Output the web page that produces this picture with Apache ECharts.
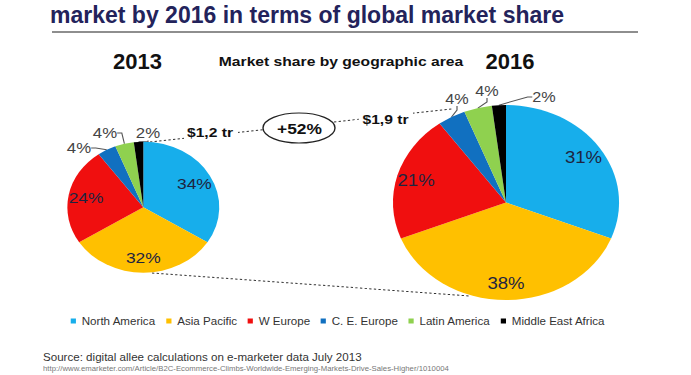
<!DOCTYPE html>
<html>
<head>
<meta charset="utf-8">
<script src="https://cdn.jsdelivr.net/npm/echarts@6/dist/echarts.min.js"></script>
<style>
html, body { margin: 0; padding: 0; background: #fff; overflow: hidden; }
/* the slide is stretched sideways, so the pies are ellipses */
#chart { width: 596px; height: 375px; transform: scaleX(1.1594); transform-origin: 0 0; }
</style>
</head>
<body>
<div id="chart"></div>
<script>
var SX = 1.1594;
var FONT = '"Liberation Sans", Arial, sans-serif';

var regions = ['North America', 'Asia Pacific', 'W Europe', 'C. E. Europe', 'Latin America', 'Middle East Africa'];
var share2013 = [34, 32, 24, 4, 4, 2];
var share2016 = [31, 38, 21, 4, 4, 2];
var regionColors = ['#17aeeb', '#ffc000', '#f00f0f', '#1170c0', '#8fd14f', '#000000'];
var years = ['2013', '2016'];
var marketSize = ['$1,2 tr', '$1,9 tr'];
var growth = '+52%';

// where the small outside labels sit (page px), keyed by data index
var smallLabelSpots = [
    { 3: [79, 148], 4: [105, 133], 5: [148, 133] },
    { 3: [457, 99], 4: [487, 91], 5: [544, 97] }
];

var chart = echarts.init(document.getElementById('chart'), null, { renderer: 'svg' });

// small slices get an outside label, big ones an inside label (drawn by the overlay ring)
function pieData(values, inner) {
    return values.map(function (v, i) {
        var big = v >= 10;
        var show = inner ? big : !big;
        return {
            name: regions[i],
            value: v,
            label: { show: show },
            labelLine: { show: show }
        };
    });
}

function mainPie(values, center, r, fs, spots) {
    return {
        type: 'pie',
        center: center,
        radius: r,
        startAngle: 90,
        animation: false,
        avoidLabelOverlap: false,
        emphasis: { disabled: true },
        label: {
            position: 'outside',
            formatter: '{c}%',
            fontSize: fs,
            fontFamily: FONT,
            color: '#444'
        },
        labelLine: { length: 5, length2: 4, lineStyle: { color: '#555', width: 1 } },
        labelLayout: function (p) {
            var s = spots[p.dataIndex];
            if (!s) return;
            return { x: s[0] / SX, y: s[1], align: 'center', verticalAlign: 'middle' };
        },
        data: pieData(values, false)
    };
}

function labelRing(values, center, r0, r, fs) {
    return {
        type: 'pie',
        center: center,
        radius: [r0, r],
        startAngle: 90,
        animation: false,
        silent: true,
        emphasis: { disabled: true },
        itemStyle: { color: 'rgba(0,0,0,0)' },
        label: {
            position: 'inside',
            formatter: '{c}%',
            fontSize: fs,
            fontFamily: FONT,
            color: '#1e2440'
        },
        data: pieData(values, true)
    };
}

function txt(x, y, text, font, fill, keepWidth) {
    return {
        type: 'text',
        x: x / SX,
        y: y,
        z: 100,
        scaleX: keepWidth ? 1 / SX : 1,
        style: {
            text: text,
            font: font,
            fill: fill,
            textAlign: 'center',
            textVerticalAlign: 'middle',
            verticalAlign: 'middle'
        }
    };
}

option = {
    color: regionColors,
    legend: {
        data: regions,
        left: 56,
        top: 311,
        icon: 'rect',
        itemWidth: 4.5,
        itemHeight: 5,
        itemGap: 9,
        selectedMode: false,
        textStyle: { fontSize: 10, color: '#333', fontFamily: FONT }
    },
    graphic: [
        {
            type: 'text', x: 50 / SX, y: 15, scaleX: 1 / SX, z: 100,
            style: {
                text: 'market by 2016 in terms of global market share',
                font: 'bold 23px ' + FONT, fill: '#23235b',
                textVerticalAlign: 'middle', verticalAlign: 'middle'
            }
        },
        {
            type: 'line', z: 1,
            shape: { x1: 52 / SX, y1: 32, x2: 638 / SX, y2: 32 },
            style: { stroke: '#8e8e8e', lineWidth: 2 }
        },
        txt(137.5, 62, years[0], 'bold 22px ' + FONT, '#111', true),
        txt(510, 62, years[1], 'bold 22px ' + FONT, '#111', true),
        txt(341, 61, 'Market share by geographic area', 'bold 13.5px ' + FONT, '#111', false),
        // dashed guide lines between the two pies
        {
            type: 'line', z: 1,
            shape: { x1: 150 / SX, y1: 142, x2: 452 / SX, y2: 109 },
            style: { stroke: '#333', lineWidth: 1, lineDash: [2, 2] }
        },
        {
            type: 'line', z: 1,
            shape: { x1: 152 / SX, y1: 273, x2: 470 / SX, y2: 296 },
            style: { stroke: '#333', lineWidth: 1, lineDash: [2, 2] }
        },
        {
            type: 'rect', z: 50,
            shape: { x: 184 / SX, y: 122, width: 54 / SX, height: 20 },
            style: { fill: '#fff' }
        },
        {
            type: 'rect', z: 50,
            shape: { x: 359 / SX, y: 109, width: 54 / SX, height: 20 },
            style: { fill: '#fff' }
        },
        {
            type: 'ellipse', z: 60,
            shape: { cx: 299 / SX, cy: 128, rx: 36 / SX, ry: 15 },
            style: { fill: '#fff', stroke: '#222', lineWidth: 1.2 }
        },
        txt(210, 132, marketSize[0], 'bold 13.5px ' + FONT, '#111', false),
        txt(385.5, 119, marketSize[1], 'bold 13.5px ' + FONT, '#111', false),
        txt(299.5, 128, growth, 'bold 15px ' + FONT, '#111', false),
        {
            type: 'text', x: 43 / SX, y: 357, z: 100,
            style: {
                text: 'Source: digital allee calculations on e-marketer data July 2013',
                font: '10px ' + FONT, fill: '#333',
                textVerticalAlign: 'middle', verticalAlign: 'middle'
            }
        },
        {
            type: 'text', x: 43 / SX, y: 369, z: 100,
            style: {
                text: 'http://www.emarketer.com/Article/B2C-Ecommerce-Climbs-Worldwide-Emerging-Markets-Drive-Sales-Higher/1010004',
                font: '6.7px ' + FONT, fill: '#777',
                textVerticalAlign: 'middle', verticalAlign: 'middle'
            }
        }
    ],
    series: [
        mainPie(share2013, [143.3 / SX, 207.2], 65.5, 14.5, smallLabelSpots[0]),
        mainPie(share2016, [506 / SX, 202.5], 97.5, 14, smallLabelSpots[1]),
        labelRing(share2013, [143.3 / SX, 207.2], 29, 65.5, 15),
        labelRing(share2016, [506 / SX, 202.5], 58, 97.5, 16)
    ]
};

chart.setOption(option);
</script>
</body>
</html>
